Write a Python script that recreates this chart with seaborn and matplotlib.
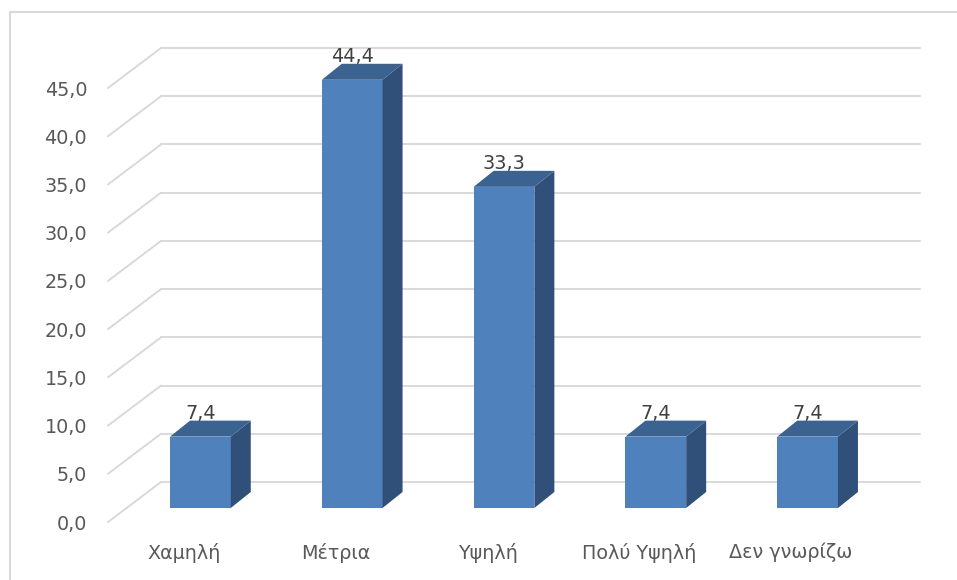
import numpy as np
import matplotlib
matplotlib.use("Agg")
import matplotlib.pyplot as plt
from matplotlib.patches import Polygon
from matplotlib.lines import Line2D
import seaborn as sns

# data
categories = ["Χαμηλή", "Μέτρια", "Υψηλή", "Πολύ Υψηλή", "Δεν γνωρίζω"]
values = [7.4, 44.4, 33.3, 7.4, 7.4]
y_ticks = [0, 5, 10, 15, 20, 25, 30, 35, 40, 45]

front_col = "#4f81bd"
side_col = "#30507a"
top_col = "#3b6392"
grid_col = "#d9d9d9"

sns.set_theme(style="white")
plt.rcParams["font.family"] = ["DejaVu Sans"]

W, H = 957, 580
fig = plt.figure(figsize=(W / 100, H / 100), dpi=100)
# front plane of the 3D box, in pixels
x_left, x_right, y_bot, y_top = 108, 867, 522, 88
ax = fig.add_axes([x_left / W, 1 - y_bot / H, (x_right - x_left) / W, (y_bot - y_top) / H])

sns.barplot(x=categories, y=values, width=0.4, color=front_col,
            saturation=1, ax=ax, zorder=3, linewidth=0)
ax.set_xlim(-0.5, len(categories) - 0.5)
ax.set_ylim(0, 45)

# pixel -> data unit conversion
px_x = (len(categories)) / (x_right - x_left)
px_y = 45 / (y_bot - y_top)

wall_dx, wall_dy = 53 * px_x, 40 * px_y     # depth of the chart box
bar_dx, bar_dy = 16.5 * px_x, 14 * px_y     # bars sit a bit behind the front
deep_dx, deep_dy = 20 * px_x, 16 * px_y     # depth of each bar

# back wall gridlines + diagonals on the side wall
x0, x1 = -0.5, len(categories) - 0.5
for v in y_ticks:
    ax.add_line(Line2D([x0 + wall_dx, x1 + wall_dx], [v + wall_dy, v + wall_dy],
                       color=grid_col, lw=1.4, clip_on=False, zorder=0))
    ax.add_line(Line2D([x0, x0 + wall_dx], [v, v + wall_dy],
                       color=grid_col, lw=1.4, clip_on=False, zorder=0))

# turn flat bars into boxes
for i, p in enumerate(ax.patches):
    p.set_x(p.get_x() + bar_dx)
    p.set_y(bar_dy)
    p.set_clip_on(False)
    bx0 = p.get_x()
    bx1 = bx0 + p.get_width()
    by0 = bar_dy
    by1 = bar_dy + values[i]
    side = Polygon([(bx1, by0), (bx1 + deep_dx, by0 + deep_dy),
                    (bx1 + deep_dx, by1 + deep_dy), (bx1, by1)],
                   closed=True, facecolor=side_col, edgecolor="none",
                   clip_on=False, zorder=3)
    top = Polygon([(bx0, by1), (bx0 + deep_dx, by1 + deep_dy),
                   (bx1 + deep_dx, by1 + deep_dy), (bx1, by1)],
                  closed=True, facecolor=top_col, edgecolor="none",
                  clip_on=False, zorder=3)
    ax.add_patch(side)
    ax.add_patch(top)
    ax.text((bx0 + bx1) / 2, by1 + deep_dy + 1.5 * px_y,
            f"{values[i]:.1f}".replace(".", ","), ha="center", va="baseline",
            fontsize=13.8, color="#404040", zorder=5, clip_on=False)

ax.set_yticks(y_ticks)
ax.set_yticklabels([f"{v:.1f}".replace(".", ",") for v in y_ticks])
ax.set_xticks(range(len(categories)))
ax.set_xticklabels(categories)
ax.tick_params(axis="y", length=0, pad=15, labelsize=13.8, labelcolor="#595959")
ax.tick_params(axis="x", length=0, pad=15, labelsize=13.8, labelcolor="#595959")
ax.set_xlabel("")
ax.set_ylabel("")
ax.grid(False)
for s in ax.spines.values():
    s.set_visible(False)
ax.patch.set_visible(False)

# chart border (cropped at right and bottom)
fig.add_artist(Line2D([10 / W, 1], [1 - 12 / H, 1 - 12 / H], color=grid_col, lw=1.5))
fig.add_artist(Line2D([10 / W, 10 / W], [0, 1 - 12 / H], color=grid_col, lw=1.5))

fig.savefig("out.png", dpi=100)
